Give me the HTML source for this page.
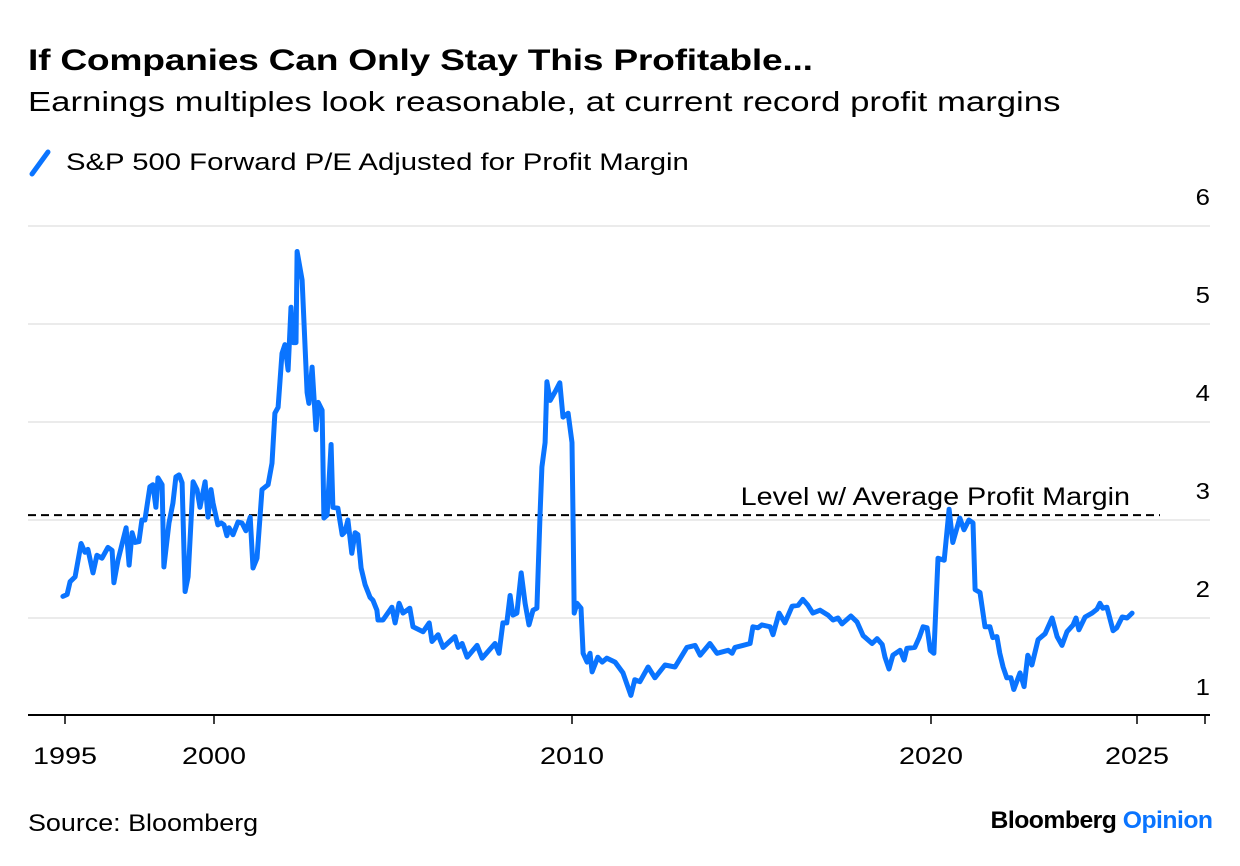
<!DOCTYPE html>
<html><head><meta charset="utf-8"><style>
body{margin:0;background:#fff;font-family:"Liberation Sans",sans-serif;}
#wrap{position:relative;width:1240px;height:866px;overflow:hidden;}
.t{position:absolute;white-space:nowrap;color:#000;transform-origin:0 0;}
</style></head><body>
<div id="wrap">
<div class="t" style="left:28px;top:44px;font-size:30px;font-weight:bold;letter-spacing:-0.2px;transform:scaleX(1.24)">If Companies Can Only Stay This Profitable...</div>
<div class="t" style="left:28px;top:86px;font-size:28px;transform:scaleX(1.24)">Earnings multiples look reasonable, at current record profit margins</div>
<div style="position:absolute;left:28px;top:148px;">
<svg width="30" height="30" style="position:absolute;left:0;top:0"><line x1="4" y1="26" x2="20" y2="4" stroke="#0a74ff" stroke-width="5" stroke-linecap="round"/></svg>
<span class="t" style="left:38px;top:1px;font-size:24px;transform:scaleX(1.22)">S&amp;P 500 Forward P/E Adjusted for Profit Margin</span>
</div>
<svg id="chart" width="1240" height="866" style="position:absolute;left:0;top:0"></svg>
<div class="t" style="left:28px;top:810px;font-size:24px;transform:scaleX(1.12)">Source: Bloomberg</div>
<div class="t" style="right:28px;top:807px;font-size:24px;font-weight:bold;letter-spacing:-0.5px;transform-origin:100% 0;transform:scaleX(1.03)">Bloomberg <span style="color:#0a74ff">Opinion</span></div>
</div>
<script>
const years=[1994.93,1995.07,1995.17,1995.34,1995.54,1995.67,1995.77,1995.94,1996.07,1996.24,1996.44,1996.58,1996.64,1996.78,1997.05,1997.15,1997.25,1997.35,1997.48,1997.58,1997.68,1997.85,1997.95,1998.05,1998.12,1998.26,1998.32,1998.49,1998.62,1998.72,1998.83,1998.93,1999.03,1999.13,1999.30,1999.43,1999.53,1999.70,1999.80,1999.90,1999.97,2000.11,2000.20,2000.28,2000.36,2000.42,2000.53,2000.67,2000.78,2000.89,2001.01,2001.09,2001.20,2001.34,2001.51,2001.62,2001.70,2001.79,2001.90,2001.98,2002.07,2002.15,2002.21,2002.29,2002.32,2002.46,2002.60,2002.65,2002.74,2002.85,2002.91,2003.02,2003.07,2003.16,2003.27,2003.32,2003.46,2003.58,2003.66,2003.74,2003.85,2003.94,2004.02,2004.11,2004.22,2004.36,2004.44,2004.55,2004.58,2004.72,2004.97,2005.06,2005.17,2005.28,2005.47,2005.56,2005.84,2006.01,2006.09,2006.26,2006.40,2006.73,2006.82,2006.93,2007.07,2007.35,2007.49,2007.85,2007.96,2008.07,2008.18,2008.27,2008.35,2008.46,2008.58,2008.69,2008.80,2008.91,2009.02,2009.11,2009.16,2009.25,2009.30,2009.39,2009.53,2009.66,2009.75,2009.89,2010.00,2010.03,2010.06,2010.14,2010.25,2010.31,2010.42,2010.50,2010.56,2010.72,2010.84,2010.97,2011.20,2011.42,2011.64,2011.75,2011.89,2012.12,2012.31,2012.59,2012.87,2013.20,2013.43,2013.57,2013.84,2014.04,2014.35,2014.46,2014.54,2014.76,2014.96,2015.04,2015.18,2015.29,2015.52,2015.60,2015.77,2015.93,2016.13,2016.30,2016.43,2016.57,2016.71,2016.91,2017.13,2017.27,2017.41,2017.52,2017.77,2017.94,2018.11,2018.36,2018.50,2018.64,2018.72,2018.83,2018.94,2019.14,2019.25,2019.33,2019.55,2019.67,2019.78,2019.89,2019.98,2020.07,2020.17,2020.32,2020.44,2020.53,2020.70,2020.80,2020.92,2021.02,2021.07,2021.19,2021.31,2021.43,2021.50,2021.60,2021.67,2021.75,2021.84,2021.94,2022.01,2022.16,2022.26,2022.35,2022.45,2022.60,2022.77,2022.94,2023.06,2023.18,2023.30,2023.45,2023.52,2023.59,2023.74,2023.91,2024.03,2024.10,2024.17,2024.27,2024.42,2024.51,2024.64,2024.76,2024.88];
const peValues=[2.22,2.24,2.37,2.42,2.76,2.67,2.70,2.46,2.64,2.61,2.72,2.69,2.36,2.59,2.92,2.54,2.87,2.77,2.78,3.00,3.00,3.34,3.36,3.13,3.43,3.36,2.52,2.97,3.17,3.44,3.46,3.38,2.27,2.42,3.39,3.31,3.13,3.39,3.03,3.31,3.17,2.95,2.97,2.95,2.84,2.92,2.85,2.98,2.97,2.89,3.03,2.51,2.61,3.31,3.36,3.58,4.09,4.15,4.70,4.79,4.53,5.17,4.81,4.81,5.74,5.45,4.30,4.19,4.56,3.92,4.20,4.12,3.02,3.05,3.77,3.13,3.12,2.85,2.88,3.00,2.66,2.87,2.85,2.51,2.34,2.21,2.18,2.08,1.98,1.98,2.11,1.95,2.15,2.05,2.10,1.91,1.86,1.95,1.76,1.83,1.70,1.81,1.70,1.74,1.60,1.72,1.59,1.74,1.64,1.95,1.95,2.23,2.03,2.05,2.46,2.15,1.93,2.08,2.10,3.07,3.54,3.79,4.41,4.22,4.31,4.40,4.05,4.09,3.79,2.97,2.05,2.15,2.10,1.64,1.55,1.64,1.45,1.60,1.55,1.59,1.55,1.44,1.21,1.37,1.35,1.50,1.39,1.52,1.50,1.70,1.72,1.62,1.74,1.64,1.67,1.64,1.70,1.72,1.74,1.91,1.90,1.93,1.91,1.83,2.05,1.95,2.12,2.13,2.19,2.13,2.05,2.08,2.03,1.98,2.00,1.94,2.02,1.96,1.82,1.74,1.79,1.73,1.60,1.48,1.62,1.67,1.57,1.69,1.70,1.80,1.91,1.90,1.67,1.64,2.61,2.59,3.11,2.77,3.02,2.90,3.00,2.97,2.29,2.26,1.91,1.91,1.80,1.81,1.64,1.50,1.39,1.39,1.27,1.44,1.30,1.62,1.52,1.78,1.84,2.00,1.81,1.72,1.86,1.93,2.00,1.88,2.01,2.05,2.09,2.15,2.10,2.11,1.87,1.90,2.01,2.00,2.05];
const averageLevel=3.05;
const yTicks=[1,2,3,4,5,6];
const xTickYears=[1995,2000,2010,2020,2025];
const xTickLabels=["1995","2000","2010","2020","2025"];

const NS="http://www.w3.org/2000/svg";
const svg=document.getElementById('chart');
const xa=[[1995,65],[2000,214],[2010,572],[2020,931],[2025,1137]];
function xScale(yr){
  let i=0; while(i<xa.length-2 && yr>xa[i+1][0]) i++;
  const a=xa[i],b=xa[i+1];
  return a[1]+(yr-a[0])*(b[1]-a[1])/(b[0]-a[0]);
}
function yScale(v){return 716-(v-1)*98;}
function mk(tag,attrs){const e=document.createElementNS(NS,tag);for(const k in attrs)e.setAttribute(k,attrs[k]);svg.appendChild(e);return e;}
function txt(x,y,anchor,size,sx){
  return mk('text',{x:0,y:0,transform:'translate('+x+','+y+') scale('+sx+',1)','text-anchor':anchor,'font-size':size,'font-family':'Liberation Sans, sans-serif',fill:'#000'});
}

yTicks.forEach(t=>{
  if(t>1){const g=mk('line',{x1:28,x2:1210,y1:yScale(t),y2:yScale(t),stroke:'#ebebeb','stroke-width':2});
  
  }
  const l=txt(1210,yScale(t)-21,'end',23,1.12);
  l.textContent=String(t);
  
  
});
const ax=mk('line',{x1:28,x2:1210,y1:715,y2:715,stroke:'#000','stroke-width':2});


const et=mk('line',{x1:1205,x2:1205,y1:715,y2:724,stroke:'#000','stroke-width':1.5});


xTickYears.forEach((yr,i)=>{
  const x=xScale(yr);
  const tk=mk('line',{x1:x,x2:x,y1:715,y2:724,stroke:'#000','stroke-width':1.5});
  
  
  const l=txt(x,764,'middle',24,1.2);
  l.textContent=xTickLabels[i];
  
  
});
const avg=mk('line',{x1:28,x2:1160,y1:yScale(averageLevel),y2:yScale(averageLevel),stroke:'#000','stroke-width':2,'stroke-dasharray':'8,5'});


const al=txt(1130,yScale(averageLevel)-10,'end',25,1.15);
al.textContent='Level w/ Average Profit Margin';


let d='';
years.forEach((yr,i)=>{d+=(i?'L':'M')+xScale(yr).toFixed(1)+','+yScale(peValues[i]).toFixed(1);});
const p=mk('path',{d:d,fill:'none',stroke:'#0a74ff','stroke-width':5,'stroke-linejoin':'round','stroke-linecap':'round'});


</script>
</body></html>
